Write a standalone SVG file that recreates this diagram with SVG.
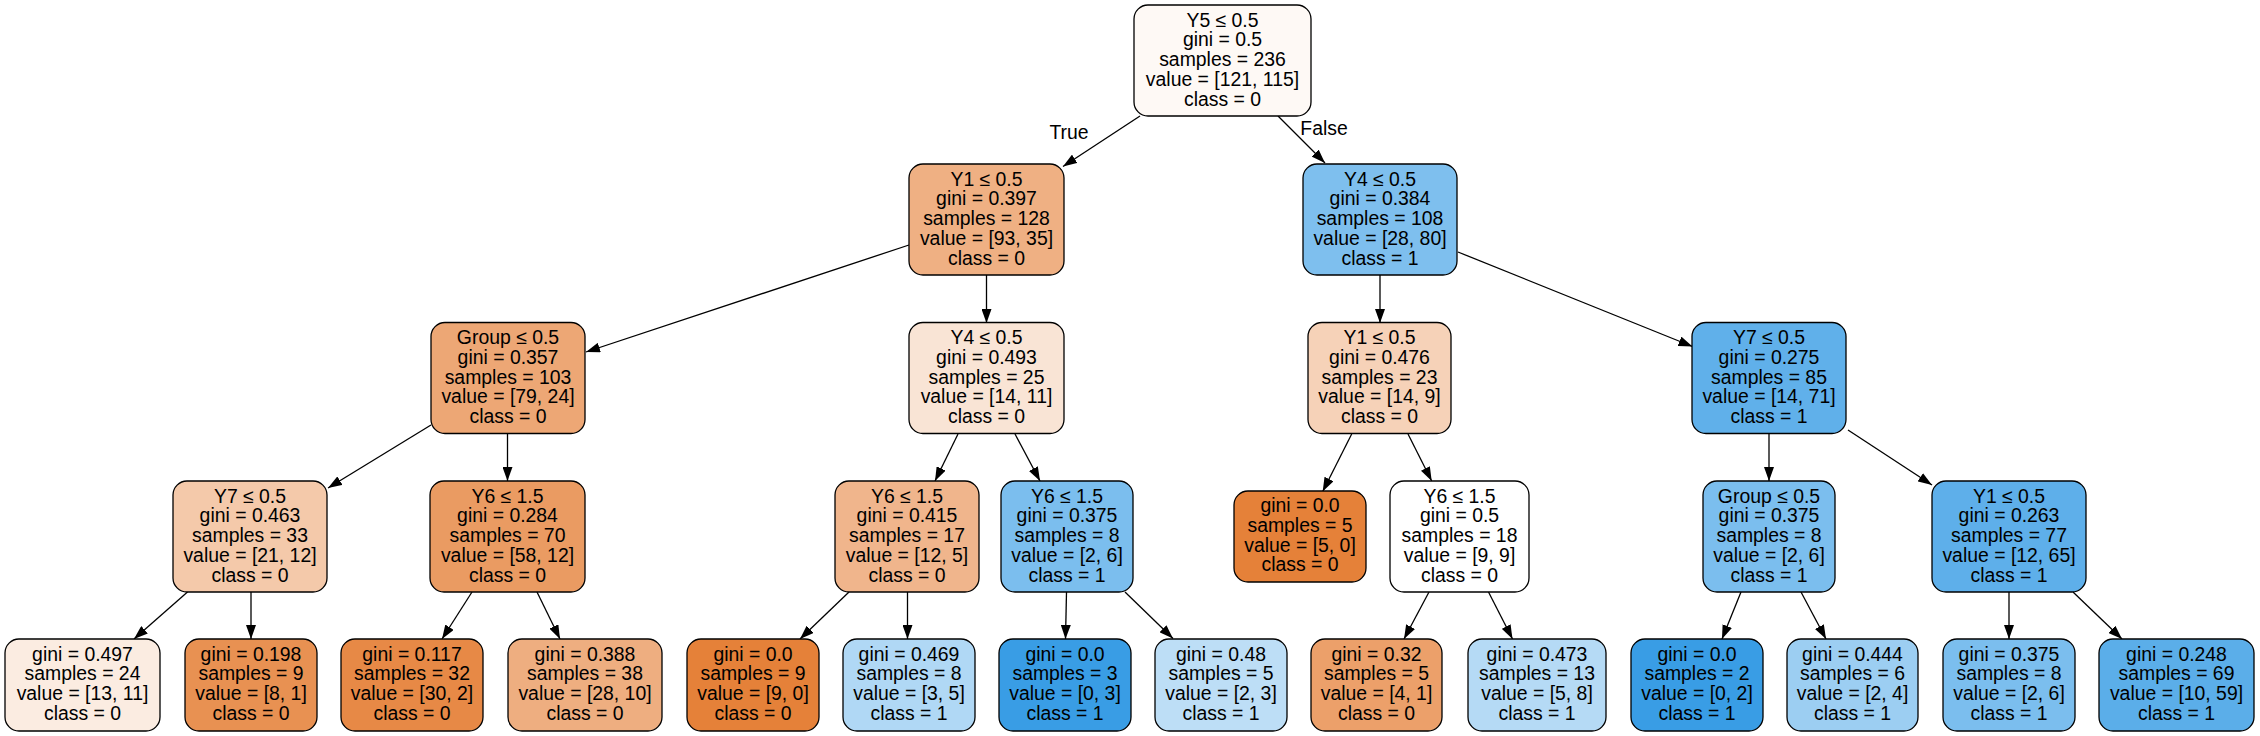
<svg xmlns="http://www.w3.org/2000/svg" width="2260" height="736" viewBox="0 0 2260 736">
<style>
.n rect{stroke:#000;stroke-width:1.3}
text{font-family:"Liberation Sans",Arial,sans-serif;font-size:19.4px;text-anchor:middle;fill:#000}
.e line{stroke:#000;stroke-width:1.3;marker-end:url(#ah)}
</style>
<defs>
<marker id="ah" markerWidth="14" markerHeight="10" refX="14" refY="5" orient="auto" markerUnits="userSpaceOnUse"><path d="M0,0L14,5L0,10z" fill="#000"/></marker>
</defs>
<rect width="2260" height="736" fill="#fff"/>
<g class="e" id="edges">
<line x1="1140" y1="116" x2="1063" y2="166.5"/>
<line x1="1278" y1="116" x2="1325" y2="163"/>
<line x1="909" y1="245" x2="586" y2="352"/>
<line x1="986.5" y1="275" x2="986.5" y2="323"/>
<line x1="1380" y1="275" x2="1380" y2="323"/>
<line x1="1458" y1="252" x2="1692.5" y2="346.5"/>
<line x1="431" y1="425" x2="328" y2="488"/>
<line x1="507.5" y1="433" x2="507.5" y2="481"/>
<line x1="958" y1="434" x2="935" y2="481"/>
<line x1="1015" y1="434" x2="1040" y2="481"/>
<line x1="1351.7" y1="434" x2="1322.7" y2="491.5"/>
<line x1="1408" y1="434" x2="1431.7" y2="481"/>
<line x1="1769" y1="433" x2="1769" y2="481"/>
<line x1="1848" y1="430" x2="1932" y2="485"/>
<line x1="187.5" y1="592" x2="134" y2="639"/>
<line x1="251" y1="592" x2="251" y2="639"/>
<line x1="472" y1="592" x2="442" y2="639"/>
<line x1="537" y1="592" x2="560" y2="639"/>
<line x1="849" y1="592" x2="800" y2="639"/>
<line x1="907.5" y1="592" x2="907.5" y2="639"/>
<line x1="1066.5" y1="592" x2="1065.5" y2="639"/>
<line x1="1125" y1="592" x2="1173" y2="638.5"/>
<line x1="1429" y1="592" x2="1404" y2="639"/>
<line x1="1488.5" y1="592" x2="1512.5" y2="639"/>
<line x1="1741" y1="592" x2="1722" y2="639"/>
<line x1="1801" y1="592" x2="1826" y2="639"/>
<line x1="2009" y1="592" x2="2009" y2="639"/>
<line x1="2073" y1="592" x2="2122" y2="639"/>
<text x="1069" y="139">True</text>
<text x="1324" y="135">False</text>
</g>
<g class="n" id="n0"><rect x="1134" y="5" width="177" height="111" rx="14" fill="#fef9f5"/><text x="1222.5" y="26.5">Y5 ≤ 0.5<tspan x="1222.5" y="46.3">gini = 0.5</tspan><tspan x="1222.5" y="66.1">samples = 236</tspan><tspan x="1222.5" y="85.9">value = [121, 115]</tspan><tspan x="1222.5" y="105.7">class = 0</tspan></text></g>
<g class="n" id="n1"><rect x="909" y="164" width="155" height="111" rx="14" fill="#efb083"/><text x="986.5" y="185.5">Y1 ≤ 0.5<tspan x="986.5" y="205.3">gini = 0.397</tspan><tspan x="986.5" y="225.1">samples = 128</tspan><tspan x="986.5" y="244.9">value = [93, 35]</tspan><tspan x="986.5" y="264.7">class = 0</tspan></text></g>
<g class="n" id="n2"><rect x="1303" y="164" width="154" height="111" rx="14" fill="#7ebfee"/><text x="1380" y="185.5">Y4 ≤ 0.5<tspan x="1380" y="205.3">gini = 0.384</tspan><tspan x="1380" y="225.1">samples = 108</tspan><tspan x="1380" y="244.9">value = [28, 80]</tspan><tspan x="1380" y="264.7">class = 1</tspan></text></g>
<g class="n" id="n3"><rect x="431" y="322.5" width="154" height="111" rx="14" fill="#eda775"/><text x="508" y="344">Group ≤ 0.5<tspan x="508" y="363.8">gini = 0.357</tspan><tspan x="508" y="383.6">samples = 103</tspan><tspan x="508" y="403.4">value = [79, 24]</tspan><tspan x="508" y="423.2">class = 0</tspan></text></g>
<g class="n" id="n4"><rect x="909" y="322.5" width="155" height="111" rx="14" fill="#f9e4d5"/><text x="986.5" y="344">Y4 ≤ 0.5<tspan x="986.5" y="363.8">gini = 0.493</tspan><tspan x="986.5" y="383.6">samples = 25</tspan><tspan x="986.5" y="403.4">value = [14, 11]</tspan><tspan x="986.5" y="423.2">class = 0</tspan></text></g>
<g class="n" id="n5"><rect x="1308" y="322.5" width="143" height="111" rx="14" fill="#f6d2b8"/><text x="1379.5" y="344">Y1 ≤ 0.5<tspan x="1379.5" y="363.8">gini = 0.476</tspan><tspan x="1379.5" y="383.6">samples = 23</tspan><tspan x="1379.5" y="403.4">value = [14, 9]</tspan><tspan x="1379.5" y="423.2">class = 0</tspan></text></g>
<g class="n" id="n6"><rect x="1692" y="322.5" width="154" height="111" rx="14" fill="#60b0ea"/><text x="1769" y="344">Y7 ≤ 0.5<tspan x="1769" y="363.8">gini = 0.275</tspan><tspan x="1769" y="383.6">samples = 85</tspan><tspan x="1769" y="403.4">value = [14, 71]</tspan><tspan x="1769" y="423.2">class = 1</tspan></text></g>
<g class="n" id="n7"><rect x="173" y="481" width="154" height="111" rx="14" fill="#f4c9aa"/><text x="250" y="502.5">Y7 ≤ 0.5<tspan x="250" y="522.3">gini = 0.463</tspan><tspan x="250" y="542.1">samples = 33</tspan><tspan x="250" y="561.9">value = [21, 12]</tspan><tspan x="250" y="581.7">class = 0</tspan></text></g>
<g class="n" id="n8"><rect x="430" y="481" width="155" height="111" rx="14" fill="#ea9b62"/><text x="507.5" y="502.5">Y6 ≤ 1.5<tspan x="507.5" y="522.3">gini = 0.284</tspan><tspan x="507.5" y="542.1">samples = 70</tspan><tspan x="507.5" y="561.9">value = [58, 12]</tspan><tspan x="507.5" y="581.7">class = 0</tspan></text></g>
<g class="n" id="n9"><rect x="835" y="481" width="144" height="111" rx="14" fill="#f0b58c"/><text x="907" y="502.5">Y6 ≤ 1.5<tspan x="907" y="522.3">gini = 0.415</tspan><tspan x="907" y="542.1">samples = 17</tspan><tspan x="907" y="561.9">value = [12, 5]</tspan><tspan x="907" y="581.7">class = 0</tspan></text></g>
<g class="n" id="n10"><rect x="1001" y="481" width="132" height="111" rx="14" fill="#7bbeee"/><text x="1067" y="502.5">Y6 ≤ 1.5<tspan x="1067" y="522.3">gini = 0.375</tspan><tspan x="1067" y="542.1">samples = 8</tspan><tspan x="1067" y="561.9">value = [2, 6]</tspan><tspan x="1067" y="581.7">class = 1</tspan></text></g>
<g class="n" id="n11"><rect x="1234" y="491" width="132" height="91" rx="14" fill="#e58139"/><text x="1300" y="512">gini = 0.0<tspan x="1300" y="531.8">samples = 5</tspan><tspan x="1300" y="551.6">value = [5, 0]</tspan><tspan x="1300" y="571.4">class = 0</tspan></text></g>
<g class="n" id="n12"><rect x="1390" y="481" width="139" height="111" rx="14" fill="#ffffff"/><text x="1459.5" y="502.5">Y6 ≤ 1.5<tspan x="1459.5" y="522.3">gini = 0.5</tspan><tspan x="1459.5" y="542.1">samples = 18</tspan><tspan x="1459.5" y="561.9">value = [9, 9]</tspan><tspan x="1459.5" y="581.7">class = 0</tspan></text></g>
<g class="n" id="n13"><rect x="1703" y="481" width="132" height="111" rx="14" fill="#7bbeee"/><text x="1769" y="502.5">Group ≤ 0.5<tspan x="1769" y="522.3">gini = 0.375</tspan><tspan x="1769" y="542.1">samples = 8</tspan><tspan x="1769" y="561.9">value = [2, 6]</tspan><tspan x="1769" y="581.7">class = 1</tspan></text></g>
<g class="n" id="n14"><rect x="1932" y="481" width="154" height="111" rx="14" fill="#5eafea"/><text x="2009" y="502.5">Y1 ≤ 0.5<tspan x="2009" y="522.3">gini = 0.263</tspan><tspan x="2009" y="542.1">samples = 77</tspan><tspan x="2009" y="561.9">value = [12, 65]</tspan><tspan x="2009" y="581.7">class = 1</tspan></text></g>
<g class="n" id="n15"><rect x="5" y="639" width="155" height="92" rx="14" fill="#fbece1"/><text x="82.5" y="660.5">gini = 0.497<tspan x="82.5" y="680.3">samples = 24</tspan><tspan x="82.5" y="700.1">value = [13, 11]</tspan><tspan x="82.5" y="719.9">class = 0</tspan></text></g>
<g class="n" id="n16"><rect x="185" y="639" width="132" height="92" rx="14" fill="#e89152"/><text x="251" y="660.5">gini = 0.198<tspan x="251" y="680.3">samples = 9</tspan><tspan x="251" y="700.1">value = [8, 1]</tspan><tspan x="251" y="719.9">class = 0</tspan></text></g>
<g class="n" id="n17"><rect x="341" y="639" width="142" height="92" rx="14" fill="#e78946"/><text x="412" y="660.5">gini = 0.117<tspan x="412" y="680.3">samples = 32</tspan><tspan x="412" y="700.1">value = [30, 2]</tspan><tspan x="412" y="719.9">class = 0</tspan></text></g>
<g class="n" id="n18"><rect x="508" y="639" width="154" height="92" rx="14" fill="#eeae80"/><text x="585" y="660.5">gini = 0.388<tspan x="585" y="680.3">samples = 38</tspan><tspan x="585" y="700.1">value = [28, 10]</tspan><tspan x="585" y="719.9">class = 0</tspan></text></g>
<g class="n" id="n19"><rect x="687" y="639" width="132" height="92" rx="14" fill="#e58139"/><text x="753" y="660.5">gini = 0.0<tspan x="753" y="680.3">samples = 9</tspan><tspan x="753" y="700.1">value = [9, 0]</tspan><tspan x="753" y="719.9">class = 0</tspan></text></g>
<g class="n" id="n20"><rect x="843" y="639" width="132" height="92" rx="14" fill="#b0d8f5"/><text x="909" y="660.5">gini = 0.469<tspan x="909" y="680.3">samples = 8</tspan><tspan x="909" y="700.1">value = [3, 5]</tspan><tspan x="909" y="719.9">class = 1</tspan></text></g>
<g class="n" id="n21"><rect x="999" y="639" width="132" height="92" rx="14" fill="#399de5"/><text x="1065" y="660.5">gini = 0.0<tspan x="1065" y="680.3">samples = 3</tspan><tspan x="1065" y="700.1">value = [0, 3]</tspan><tspan x="1065" y="719.9">class = 1</tspan></text></g>
<g class="n" id="n22"><rect x="1155" y="639" width="132" height="92" rx="14" fill="#bddef6"/><text x="1221" y="660.5">gini = 0.48<tspan x="1221" y="680.3">samples = 5</tspan><tspan x="1221" y="700.1">value = [2, 3]</tspan><tspan x="1221" y="719.9">class = 1</tspan></text></g>
<g class="n" id="n23"><rect x="1311" y="639" width="131" height="92" rx="14" fill="#eca06a"/><text x="1376.5" y="660.5">gini = 0.32<tspan x="1376.5" y="680.3">samples = 5</tspan><tspan x="1376.5" y="700.1">value = [4, 1]</tspan><tspan x="1376.5" y="719.9">class = 0</tspan></text></g>
<g class="n" id="n24"><rect x="1468" y="639" width="138" height="92" rx="14" fill="#b5daf5"/><text x="1537" y="660.5">gini = 0.473<tspan x="1537" y="680.3">samples = 13</tspan><tspan x="1537" y="700.1">value = [5, 8]</tspan><tspan x="1537" y="719.9">class = 1</tspan></text></g>
<g class="n" id="n25"><rect x="1631" y="639" width="132" height="92" rx="14" fill="#399de5"/><text x="1697" y="660.5">gini = 0.0<tspan x="1697" y="680.3">samples = 2</tspan><tspan x="1697" y="700.1">value = [0, 2]</tspan><tspan x="1697" y="719.9">class = 1</tspan></text></g>
<g class="n" id="n26"><rect x="1787" y="639" width="131" height="92" rx="14" fill="#9ccef2"/><text x="1852.5" y="660.5">gini = 0.444<tspan x="1852.5" y="680.3">samples = 6</tspan><tspan x="1852.5" y="700.1">value = [2, 4]</tspan><tspan x="1852.5" y="719.9">class = 1</tspan></text></g>
<g class="n" id="n27"><rect x="1943" y="639" width="132" height="92" rx="14" fill="#7bbeee"/><text x="2009" y="660.5">gini = 0.375<tspan x="2009" y="680.3">samples = 8</tspan><tspan x="2009" y="700.1">value = [2, 6]</tspan><tspan x="2009" y="719.9">class = 1</tspan></text></g>
<g class="n" id="n28"><rect x="2099" y="639" width="155" height="92" rx="14" fill="#5baee9"/><text x="2176.5" y="660.5">gini = 0.248<tspan x="2176.5" y="680.3">samples = 69</tspan><tspan x="2176.5" y="700.1">value = [10, 59]</tspan><tspan x="2176.5" y="719.9">class = 1</tspan></text></g>
</svg>
